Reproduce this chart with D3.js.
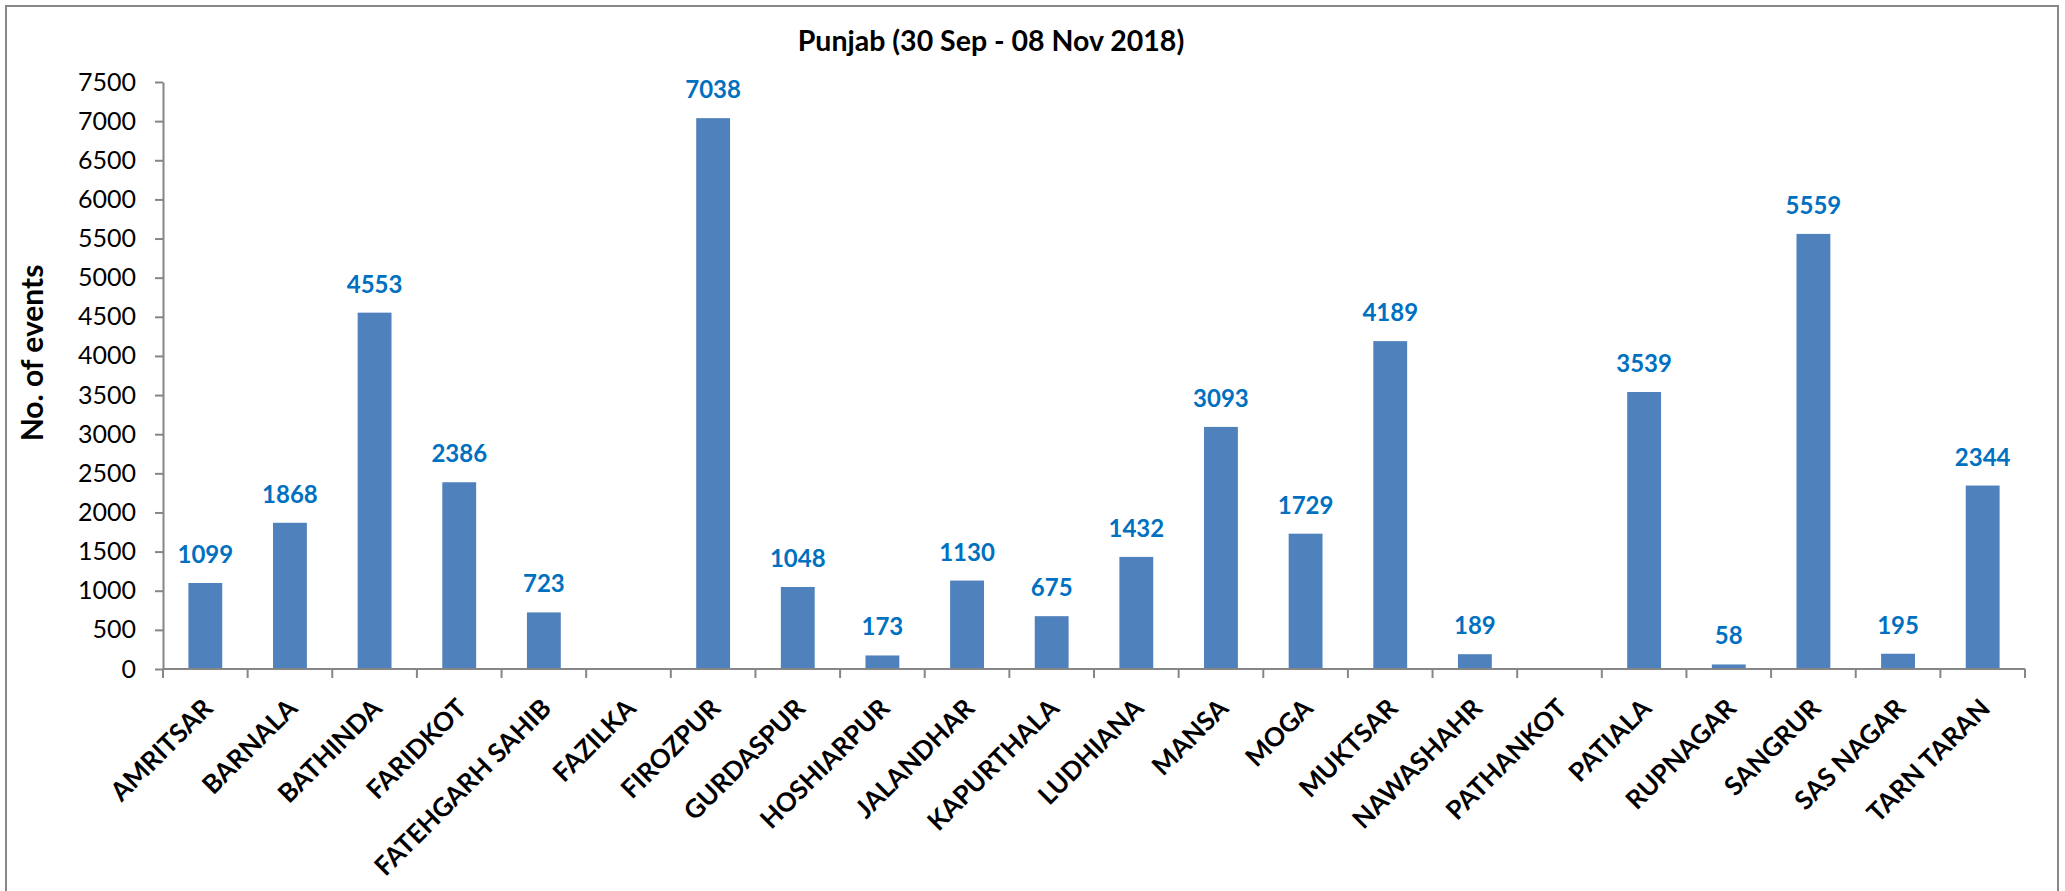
<!DOCTYPE html>
<html>
    <head>
        <title>Punjab (30 Sep - 08 Nov 2018)</title>
        <meta charset="UTF-8">
        <script src="https://d3js.org/d3.v7.min.js" charset="utf-8"></script>
        <style>
            body { margin: 0; background: #fff; }
            text { font-family: Lato, "Open Sans", sans-serif; }
        </style>
    </head>
    <body>
        <script>
            var districts = ["AMRITSAR", "BARNALA", "BATHINDA", "FARIDKOT", "FATEHGARH SAHIB", "FAZILKA",
                "FIROZPUR", "GURDASPUR", "HOSHIARPUR", "JALANDHAR", "KAPURTHALA", "LUDHIANA", "MANSA",
                "MOGA", "MUKTSAR", "NAWASHAHR", "PATHANKOT", "PATIALA", "RUPNAGAR", "SANGRUR",
                "SAS NAGAR", "TARN TARAN"];
            // FAZILKA and PATHANKOT have no value in the chart
            var events = [1099, 1868, 4553, 2386, 723, null, 7038, 1048, 173, 1130, 675, 1432, 3093,
                1729, 4189, 189, null, 3539, 58, 5559, 195, 2344];
            var yTicks = [0, 500, 1000, 1500, 2000, 2500, 3000, 3500, 4000, 4500, 5000, 5500, 6000, 6500, 7000, 7500];

            var width = 2065, height = 891;
            var plotLeft = 163, plotRight = 2025, plotTop = 82, plotBottom = 669;

            var svg = d3.select("body").append("svg")
                .attr("width", width)
                .attr("height", height);

            // chart frame
            svg.append("rect")
                .attr("x", 6).attr("y", 6)
                .attr("width", 2052).attr("height", 900)
                .attr("fill", "none")
                .attr("stroke", "#888")
                .attr("stroke-width", 2);

            svg.append("text")
                .attr("x", 991).attr("y", 51)
                .attr("text-anchor", "middle")
                .attr("font-size", 28.5)
                .attr("font-weight", "bold")
                .text("Punjab (30 Sep - 08 Nov 2018)");

            var x = d3.scaleBand().domain(districts).range([plotLeft, plotRight]).paddingInner(0.6).paddingOuter(0.3);
            var y = d3.scaleLinear().domain([0, 7500]).range([plotBottom, plotTop]);

            var band = (plotRight - plotLeft) / districts.length;

            // bars
            var data = districts.map(function(d, i){ return {name: d, v: events[i]}; })
                .filter(function(d){ return d.v !== null; });

            svg.append("g").selectAll("rect").data(data).enter().append("rect")
                .attr("x", function(d){ return x(d.name); })
                .attr("width", x.bandwidth())
                .attr("y", function(d){ return y(d.v); })
                .attr("height", function(d){ return plotBottom - y(d.v); })
                .attr("fill", "#4F81BD");

            svg.append("g").selectAll("text").data(data).enter().append("text")
                .attr("x", function(d){ return x(d.name) + x.bandwidth() / 2; })
                .attr("y", function(d){ return y(d.v) - 20; })
                .attr("text-anchor", "middle")
                .attr("font-size", 24)
                .attr("font-weight", "bold")
                .attr("fill", "#0070C0")
                .text(function(d){ return d.v; });

            // y axis
            var yAxis = svg.append("g")
                .attr("transform", "translate(" + plotLeft + ",0)")
                .call(d3.axisLeft(y).tickValues(yTicks).tickFormat(d3.format("d"))
                    .tickSize(8).tickPadding(19).tickSizeOuter(0));
            yAxis.select(".domain").attr("stroke", "#868686").attr("stroke-width", 2);
            yAxis.selectAll(".tick line").attr("stroke", "#868686").attr("stroke-width", 2);
            yAxis.selectAll(".tick text")
                .attr("font-size", 25)
                .attr("font-family", "Lato, sans-serif")
                .attr("fill", "#000");

            // x axis with ticks on band edges
            var xAxis = svg.append("g").attr("transform", "translate(0," + plotBottom + ")");
            xAxis.append("line")
                .attr("x1", plotLeft).attr("x2", plotRight)
                .attr("stroke", "#868686").attr("stroke-width", 2);
            xAxis.selectAll(".edge").data(d3.range(districts.length + 1)).enter().append("line")
                .attr("x1", function(i){ return plotLeft + i * band; })
                .attr("x2", function(i){ return plotLeft + i * band; })
                .attr("y1", 0).attr("y2", 9)
                .attr("stroke", "#868686").attr("stroke-width", 2);
            xAxis.selectAll(".lbl").data(districts).enter().append("text")
                .attr("transform", function(d){
                    return "translate(" + (x(d) + x.bandwidth() / 2 + 9) + ",41) rotate(-45)";
                })
                .attr("text-anchor", "end")
                .attr("font-size", 26)
                .attr("font-weight", "bold")
                .text(function(d){ return d; });

            svg.append("text")
                .attr("transform", "translate(43,353) rotate(-90)")
                .attr("text-anchor", "middle")
                .attr("font-size", 30)
                .attr("font-weight", "bold")
                .text("No. of events");
        </script>
    </body>
</html>
